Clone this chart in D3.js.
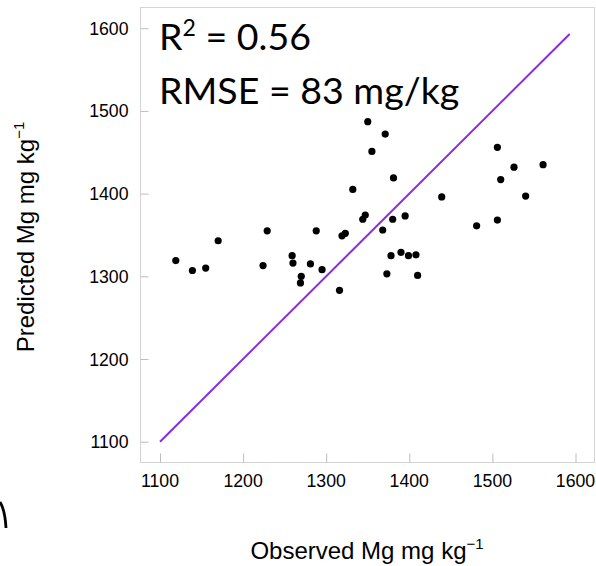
<!DOCTYPE html>
<html>
<head>
<meta charset="utf-8">
<script src="https://cdn.jsdelivr.net/npm/d3@7"></script>
<style>
    body { margin: 0; background: #fff; }
    svg { display: block; }
    .tick-label { font-family: "Liberation Sans", Arial, sans-serif; font-size: 17.7px; fill: #000; }
    .axis-title { font-family: "Liberation Sans", Arial, sans-serif; font-size: 24px; fill: #000; }
    .stat { font-family: Lato, "Open Sans", sans-serif; font-size: 37.5px; fill: #000; }
</style>
</head>
<body>
<div id="chart"></div>
<script>
// observed vs predicted Mg (mg/kg)
var observed = [1119, 1139, 1155, 1170, 1224, 1229, 1259, 1260, 1270, 1269,
    1281, 1288, 1295, 1316, 1319, 1323, 1332, 1344, 1347, 1350,
    1355, 1371, 1368, 1381, 1380, 1373, 1378, 1390, 1395, 1399,
    1408, 1410, 1439, 1481, 1506, 1506, 1510, 1526, 1540, 1561];
var predicted = [1319, 1307, 1310, 1343, 1313, 1355, 1325, 1316, 1300, 1292,
    1315, 1355, 1308, 1283, 1349, 1352, 1405, 1369, 1374, 1487,
    1451, 1472, 1356, 1419, 1369, 1303, 1325, 1329, 1373, 1325,
    1326, 1301, 1396, 1361, 1368, 1456, 1417, 1432, 1397, 1435];
var ticks = [1100, 1200, 1300, 1400, 1500, 1600];
var lineEnds = [1100, 1593];

var width = 596, height = 566;
var frame = {left: 140, right: 594, top: 7, bottom: 462};

var svg = d3.select("#chart").append("svg")
    .attr("width", width)
    .attr("height", height);

var x = d3.scaleLinear().domain([1100, 1600]).range([160, 575.5]);
var y = d3.scaleLinear().domain([1100, 1600]).range([441.7, 28.2]);

// frame
svg.append("rect")
    .attr("x", frame.left + 0.5)
    .attr("y", frame.top + 0.5)
    .attr("width", frame.right - frame.left)
    .attr("height", frame.bottom - frame.top)
    .attr("fill", "none")
    .attr("stroke", "#d4d4d4")
    .attr("stroke-width", 1);

// axes with inward ticks
var xAxis = d3.axisTop(x).tickValues(ticks).tickSize(9).tickFormat("");
var yAxis = d3.axisRight(y).tickValues(ticks).tickSize(8).tickFormat("");

var gx = svg.append("g")
    .attr("transform", "translate(0," + (frame.bottom + 0.5) + ")")
    .call(xAxis);
var gy = svg.append("g")
    .attr("transform", "translate(" + (frame.left + 0.5) + ",0)")
    .call(yAxis);
[gx, gy].forEach(function (g) {
    g.select(".domain").remove();
    g.selectAll(".tick line").attr("stroke", "#bdbdbd");
});

// tick labels
svg.selectAll(".xlab")
    .data(ticks)
    .enter().append("text")
    .attr("class", "tick-label")
    .attr("x", function (d) { return x(d); })
    .attr("y", 487)
    .attr("text-anchor", "middle")
    .text(function (d) { return d; });

svg.selectAll(".ylab")
    .data(ticks)
    .enter().append("text")
    .attr("class", "tick-label")
    .attr("x", 128.5)
    .attr("y", function (d) { return y(d) + 6.5; })
    .attr("text-anchor", "end")
    .text(function (d) { return d; });

// 1:1 line
var line = d3.line()
    .x(function (d) { return x(d); })
    .y(function (d) { return y(d); });

svg.append("path")
    .datum(lineEnds)
    .attr("d", line)
    .attr("fill", "none")
    .attr("stroke", "#8a2be2")
    .attr("stroke-width", 2);

// points
svg.selectAll("circle")
    .data(observed)
    .enter().append("circle")
    .attr("cx", function (d) { return x(d); })
    .attr("cy", function (d, i) { return y(predicted[i]); })
    .attr("r", 3.6)
    .attr("fill", "#000");

// stats text
var r2 = svg.append("text").attr("class", "stat").attr("x", 159).attr("y", 50);
r2.append("tspan").text("R");
r2.append("tspan").attr("dy", -14).style("font-size", "23px").text("2");
r2.append("tspan").attr("dy", 14).text(" = 0.56");

svg.append("text").attr("class", "stat")
    .attr("x", 159).attr("y", 104)
    .text("RMSE = 83 mg/kg");

// axis titles
var xt = svg.append("text").attr("class", "axis-title")
    .attr("x", (frame.left + frame.right) / 2)
    .attr("y", 559)
    .attr("text-anchor", "middle");
xt.append("tspan").text("Observed Mg mg kg");
xt.append("tspan").attr("dy", -10).style("font-size", "15px").text("\u22121");

var yt = svg.append("text").attr("class", "axis-title")
    .attr("transform", "translate(34,237) rotate(-90)")
    .attr("text-anchor", "middle");
yt.append("tspan").text("Predicted Mg mg kg");
yt.append("tspan").attr("dy", -10).style("font-size", "15px").text("\u22121");

// stray stroke at the left edge
svg.append("path")
    .attr("d", "M0,502 Q5,510 6,528")
    .attr("fill", "none")
    .attr("stroke", "#000")
    .attr("stroke-width", 2.8);
</script>
</body>
</html>
